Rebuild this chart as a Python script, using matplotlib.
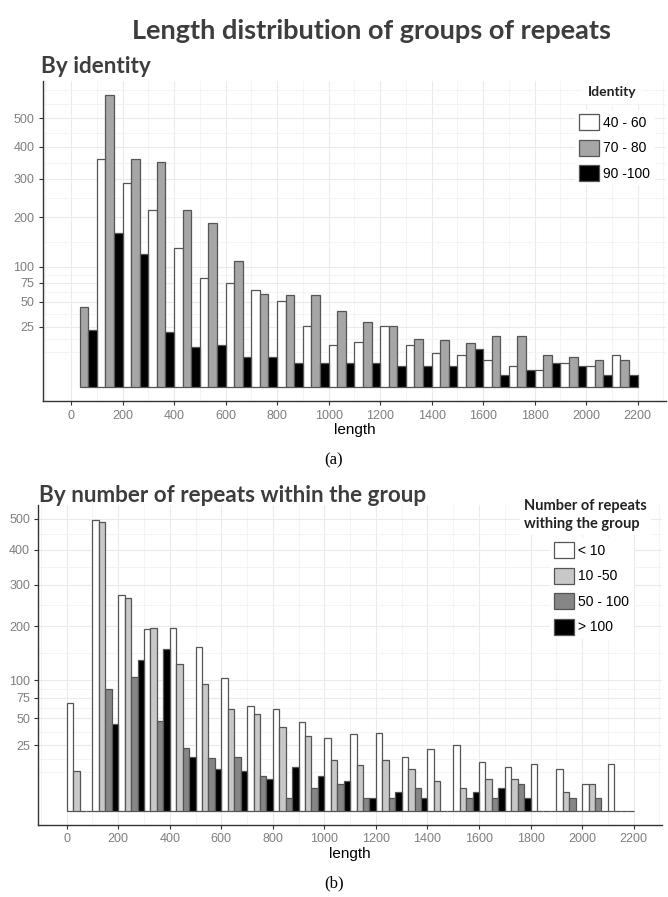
import numpy as np
import matplotlib.pyplot as plt
from matplotlib.patches import Patch

# left edges of the 100 bp length bins
bins = np.arange(0, 2200, 100)

# counts per bin, split by identity
identity_labels = ['40 - 60', '70 - 80', '90 -100']
identity_colors = ['white', '#a6a6a6', 'black']
ident_40_60 = [np.nan, 361, 289, 216, 134, 82, 74, 65, 51, 26, 12, 14, 26, 12, 8, 7, 5, 3, 2, 4, 3, 7]
ident_70_80 = [44, 589, 361, 350, 218, 185, 110, 60, 58, 58, 40, 29, 26, 16, 15, 13, 18, 18, 7, 6, 5, 5]
ident_90_100 = [22, 165, 123, 21, 11, 12, 6, 6, 4, 4, 4, 4, 3, 3, 3, 10, 1, 2, 4, 3, 1, 1]

# counts per bin, split by number of repeats in the group
nrep_labels = ['< 10', '10 -50', '50 - 100', '> 100']
nrep_colors = ['white', '#c8c8c8', '#868686', 'black']
nrep_lt10 = [68, 497, 273, 194, 196, 158, 103, 64, 61, 46, 31, 34, 35, 17, 22, 25, 14, 11, 13, 10, 4, 13]
nrep_10_50 = [9, 490, 265, 196, 126, 94, 60, 55, 41, 33, 15, 12, 15, 10, 5, 3, 6, 6, 0, 2, 4, 0]
nrep_50_100 = [0, 87, 105, 47, 23, 16, 17, 7, 1, 3, 4, 1, 1, 3, 0, 1, 1, 4, 0, 1, 1, 0]
nrep_gt100 = [0, 44, 133, 153, 17, 10, 9, 6, 11, 7, 5, 1, 2, 1, 0, 2, 3, 1, 0, 0, 0, 0]

y_breaks = [25, 50, 75, 100, 200, 300, 400, 500]
x_breaks = list(range(0, 2201, 200))

TITLE_FONT = 'Lato'
TEXT_FONT = 'Liberation Sans'
TITLE_COLOR = '#3d3d3d'
W, H = 668, 897


def fx(px):
    return px / W


def fy(px):
    return 1 - px / H


def ssqrt(v):
    v = np.asarray(v, dtype=float)
    return np.sign(v) * np.sqrt(np.abs(v))


def ssquare(v):
    v = np.asarray(v, dtype=float)
    return np.sign(v) * v ** 2


def minor_breaks(major, lo, hi):
    # midpoints between majors (in transformed space), extended one step each side
    b = list(major)
    if lo < b[0]:
        b = [b[0] - (b[1] - b[0])] + b
    if hi > b[-1]:
        b = b + [b[-1] + (b[-1] - b[-2])]
    out = [(a + c) / 2 for a, c in zip(b[:-1], b[1:])]
    out += [b[0], b[-1]]
    return [m for m in out if lo <= m <= hi and m not in major]


def histo(ax, series, colors, labels, legend_pos):
    n = len(series)
    w = 100 / n
    for i, (vals, col) in enumerate(zip(series, colors)):
        ax.bar(bins + i * w, vals, width=w, align='edge', color=col,
               edgecolor='#555555', linewidth=0.9, zorder=3)

    ax.set_yscale('function', functions=(ssqrt, ssquare))
    top = np.nanmax([np.nanmax(s) for s in series])
    s_top = np.sqrt(top)
    ax.set_ylim(-(0.05 * s_top) ** 2, (1.05 * s_top) ** 2)
    ax.set_xlim(-110, 2310)

    ax.set_yticks(y_breaks)
    ax.set_yticklabels([str(b) for b in y_breaks])
    lo, hi = ssqrt(list(ax.get_ylim()))
    ym = minor_breaks(list(np.sqrt(y_breaks)), lo, hi)
    ax.set_yticks([m ** 2 for m in ym if m > 0], minor=True)

    ax.set_xticks(x_breaks)
    ax.set_xticks(minor_breaks(x_breaks, -110, 2310), minor=True)

    ax.grid(which='major', color='#ebebeb', linewidth=0.8, zorder=0)
    ax.grid(which='minor', color='#f3f3f3', linewidth=0.6, zorder=0)
    ax.set_axisbelow(True)

    for side in ['top', 'right']:
        ax.spines[side].set_visible(False)
    for side in ['left', 'bottom']:
        ax.spines[side].set_color('#333333')
        ax.spines[side].set_linewidth(1.0)
    ax.tick_params(which='major', length=3, width=0.8, color='#333333',
                   labelsize=9, labelcolor='#7f7f7f', pad=3)
    ax.tick_params(which='minor', length=0)
    for t in ax.get_xticklabels() + ax.get_yticklabels():
        t.set_fontfamily(TEXT_FONT)

    ax.set_xlabel('length', fontsize=11, family=TEXT_FONT, color='black', labelpad=1)

    handles = [Patch(facecolor=c, edgecolor='#555555', linewidth=0.9, label=l)
               for c, l in zip(colors, labels)]
    leg = ax.legend(handles=handles, loc='upper left',
                    bbox_to_anchor=legend_pos, bbox_transform=ax.figure.transFigure,
                    frameon=True, fancybox=False, framealpha=1, edgecolor='none',
                    facecolor='white', prop={'family': TEXT_FONT, 'size': 10},
                    handlelength=1.4, handleheight=1.4, handletextpad=0.35,
                    labelspacing=0.68, borderpad=0.3, borderaxespad=0)
    leg.set_zorder(5)


fig = plt.figure(figsize=(W / 100, H / 100), dpi=100)

ax1 = fig.add_axes([fx(42.7), fy(401.3), fx(666) - fx(42.7), fy(80.9) - fy(401.3)])
histo(ax1, [ident_40_60, ident_70_80, ident_90_100], identity_colors,
      identity_labels, (fx(575), fy(110)))

ax2 = fig.add_axes([fx(38.3), fy(825.1), fx(662) - fx(38.3), fy(505.1) - fy(825.1)])
histo(ax2, [nrep_lt10, nrep_10_50, nrep_50_100, nrep_gt100], nrep_colors,
      nrep_labels, (fx(550), fy(538)))

# legend titles
fig.text(fx(612), fy(92), 'Identity', ha='center', va='center', fontsize=10,
         weight='bold', family=TITLE_FONT, color='#222222', zorder=6,
         bbox=dict(facecolor='white', edgecolor='none', pad=4))
fig.text(fx(524), fy(515), 'Number of repeats\nwithing the group', ha='left', va='center',
         fontsize=10.5, weight='bold', family=TITLE_FONT, color='#222222',
         linespacing=1.3, zorder=6,
         bbox=dict(facecolor='white', edgecolor='none', pad=3))

fig.text(fx(372), fy(39), 'Length distribution of groups of repeats', ha='center',
         va='baseline', fontsize=19.5, weight='bold', family=TITLE_FONT, color=TITLE_COLOR)
fig.text(fx(41), fy(73), 'By identity', ha='left', va='baseline',
         fontsize=16.2, weight='bold', family=TITLE_FONT, color=TITLE_COLOR)
fig.text(fx(39), fy(502), 'By number of repeats within the group', ha='left', va='baseline',
         fontsize=16.2, weight='bold', family=TITLE_FONT, color=TITLE_COLOR)

fig.text(0.5, fy(460), '(a)', ha='center', va='center',
         fontsize=12, family='Liberation Serif', color='black')
fig.text(0.5, fy(883), '(b)', ha='center', va='center',
         fontsize=12, family='Liberation Serif', color='black')

fig.savefig('out.png', dpi=100)
